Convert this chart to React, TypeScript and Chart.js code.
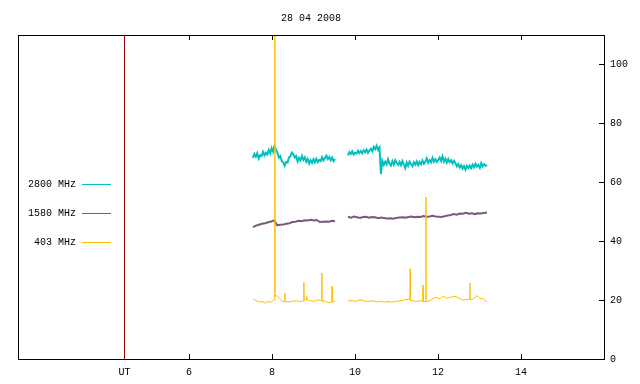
import React, { useEffect, useRef } from "react";
import { Chart, registerables } from "chart.js";

Chart.register(...registerables);

const TITLE = "28 04 2008";
const FONT_FAMILY = '"Liberation Mono", "DejaVu Sans Mono", monospace';

const X_MIN = 1.88;
const X_MAX = 16;
const Y_MIN = 0;
const Y_MAX = 110;
const UT_MARK = 4.446;
const X_TICKS = [4.446, 6, 8, 10, 12, 14];
const X_TICK_LABELS = ["UT", "6", "8", "10", "12", "14"];
const Y_TICKS = [0, 20, 40, 60, 80, 100];

const SERIES_NAMES = ["2800 MHz", "1580 MHz", "403 MHz"];
const SERIES_COLORS = ["#00c0c0", "#7a5a7c", "#ffbf00"];
const UT_COLOR = "#a00000";

// observing windows (UT hours)
const SEG_A = [7.54, 9.52];
const SEG_B = [9.83, 13.18];
const GAP_T = 9.67;

// 2800 MHz flux, window A and B
const F2800_A = [
  68.3, 69.6, 68.7, 69.9, 68.1, 69.2, 68.9,
  70.3, 69.1, 70.0, 69.4, 71.0, 69.8,
  71.6, 70.4, 72.3, 70.9,
  70.1, 68.4, 68.9, 67.2,
  66.8, 65.6, 66.9,
  66.7, 68.4, 68.8, 70.1,
  69.6, 68.4, 68.9,
  67.1, 68.3, 67.4,
  68.9, 67.6, 68.5,
  67.0, 67.9, 66.4, 67.5, 66.6,
  67.8, 66.8, 68.0, 66.9, 67.6, 67.2,
  68.5, 67.4, 68.2, 69.0, 67.9,
  68.6, 67.5, 68.4, 67.2, 67.9,
];
const F2800_B = [
  69.1, 70.2, 69.6, 70.5, 69.4, 70.0, 69.8, 70.7, 69.9,
  70.6, 69.8, 70.9, 70.2, 71.1, 70.0, 70.8,
  71.4, 70.5, 72.0, 71.2,
  72.4, 71.0, 71.8,
  62.8,
  67.3, 65.9, 67.0, 66.1, 67.8, 66.4, 65.7, 67.2, 66.0, 67.5, 66.6, 65.9,
  66.9, 65.8, 67.2, 66.0, 64.8, 66.7, 65.6, 67.0, 66.2, 65.5, 66.8, 66.0, 67.1, 65.8,
  66.9, 66.1, 67.4, 66.3, 67.0, 68.1, 66.6, 67.5, 66.8, 68.3, 67.0, 67.8, 66.9, 67.6,
  68.4, 67.2, 68.8, 67.0, 68.0, 66.7, 67.9, 66.8, 67.5, 66.4, 67.3,
  66.5, 65.4, 66.2, 65.0, 65.8, 64.6, 65.5, 64.3, 65.6, 64.9,
  65.7, 64.8, 66.0, 65.1, 66.3, 65.3, 65.9, 64.9, 66.5, 65.4, 66.1, 65.6, 65.9,
];

// 1580 MHz flux, window A and B
const F1580_A = [
  44.8, 45.3, 45.6, 45.9, 46.1, 46.4, 46.7, 47.1, 45.4, 45.6,
  45.7, 45.9, 46.1, 46.5, 46.6, 46.9, 46.8, 47.1, 47.0, 47.3,
  47.0, 47.2, 46.5, 46.6, 46.7, 46.6, 46.9, 46.8,
];
const F1580_B = [
  48.3, 48.0, 48.4, 48.1, 47.9, 48.2, 48.3, 48.0, 48.2, 48.1,
  47.8, 48.0, 47.9, 47.7, 47.8, 47.6, 47.9, 48.0, 48.1, 48.0,
  48.2, 48.4, 48.1, 48.3, 48.2, 48.5, 48.3, 48.4, 48.6, 48.4,
  48.3, 48.2, 48.5, 48.7, 48.9, 49.2, 49.0, 49.4, 49.3, 49.6,
  49.3, 49.5, 49.2, 49.5, 49.4, 49.6, 49.7,
];

// 403 MHz flux (times in UT hours), null marks the gap
const F403_T = [
  7.54, 7.61, 7.69, 7.76, 7.83, 7.9, 7.98, 8.05, 8.065, 8.07, 8.075,
  8.12, 8.17, 8.24, 8.305, 8.31, 8.315, 8.39, 8.48, 8.58, 8.67, 8.75,
  8.765, 8.77, 8.775, 8.82, 8.835, 8.84, 8.845, 8.92, 9.01, 9.11,
  9.195, 9.2, 9.205, 9.28, 9.35, 9.42, 9.445, 9.45, 9.455, 9.52,
  9.67,
  9.83, 9.93, 10.02, 10.12, 10.22, 10.31, 10.41, 10.51, 10.6, 10.7,
  10.8, 10.89, 10.99, 11.08, 11.21, 11.29, 11.325, 11.33, 11.335, 11.38,
  11.47, 11.57, 11.635, 11.64, 11.645, 11.705, 11.71, 11.715, 11.76,
  11.86, 11.95, 12.05, 12.12, 12.22, 12.31, 12.41, 12.51, 12.6, 12.7,
  12.765, 12.77, 12.775, 12.84, 12.94, 13.01, 13.1, 13.18,
];
const F403_V = [
  20.4, 19.9, 19.3, 19.6, 19.0, 19.5, 19.3, 20.2, 20.0, 200, 21.0,
  21.6, 20.8, 19.6, 19.5, 22.4, 19.5, 19.4, 19.6, 19.8, 19.5, 19.7,
  19.7, 26.1, 19.9, 20.3, 20.2, 21.2, 20.0, 19.8, 19.6, 20.1,
  19.8, 29.2, 19.7, 19.7, 19.2, 19.3, 19.4, 24.8, 19.5, 19.6,
  null,
  19.7, 19.8, 19.6, 20.1, 19.7, 19.5, 19.8, 19.4, 19.6, 19.3,
  19.5, 19.3, 19.6, 19.7, 20.1, 20.4, 20.0, 30.6, 19.9, 19.8,
  19.5, 19.8, 19.6, 25.1, 19.5, 19.5, 55.0, 19.6, 19.5,
  20.3, 20.9, 20.4, 21.4, 20.6, 21.0, 21.3, 20.6, 20.0, 20.2,
  20.3, 25.8, 20.2, 20.3, 21.5, 20.6, 20.4, 19.4,
];

type Pt = { x: number; y: number | null };

function windowPoints(range: number[], vals: number[]): Pt[] {
  const step = (range[1] - range[0]) / (vals.length - 1);
  return vals.map((v, i) => ({ x: range[0] + i * step, y: v }));
}

function twoWindows(a: number[], b: number[]): Pt[] {
  return [...windowPoints(SEG_A, a), { x: GAP_T, y: null }, ...windowPoints(SEG_B, b)];
}

const framePlugin = {
  id: "gnuFrame",
  afterDraw(chart: any) {
    const { ctx, chartArea: a, scales } = chart;
    ctx.save();
    ctx.strokeStyle = "#000";
    ctx.lineWidth = 1;
    ctx.strokeRect(a.left + 0.5, a.top + 0.5, a.right - a.left, a.bottom - a.top);
    ctx.beginPath();
    for (const t of scales.x.ticks) {
      if (t.value === UT_MARK) continue;
      const px = Math.round(scales.x.getPixelForValue(t.value)) + 0.5;
      ctx.moveTo(px, a.bottom);
      ctx.lineTo(px, a.bottom - 5);
      ctx.moveTo(px, a.top);
      ctx.lineTo(px, a.top + 5);
    }
    for (const t of scales.y.ticks) {
      const py = Math.round(scales.y.getPixelForValue(t.value)) + 0.5;
      ctx.moveTo(a.right, py);
      ctx.lineTo(a.right - 5, py);
    }
    ctx.stroke();
    // key
    ctx.font = `10px ${FONT_FAMILY}`;
    ctx.textAlign = "right";
    ctx.textBaseline = "middle";
    ctx.fillStyle = "#000";
    const keyY = [184, 213, 242];
    SERIES_NAMES.forEach((name, i) => {
      ctx.fillText(name, 76, keyY[i]);
      ctx.strokeStyle = SERIES_COLORS[i];
      ctx.lineWidth = 1;
      ctx.beginPath();
      ctx.moveTo(82, keyY[i] + 0.5);
      ctx.lineTo(111, keyY[i] + 0.5);
      ctx.stroke();
    });
    ctx.restore();
  },
};

export default function App() {
  const ref = useRef<HTMLCanvasElement | null>(null);
  useEffect(() => {
    if (!ref.current) return;
    const font = { family: FONT_FAMILY, size: 10, weight: "normal" as const, lineHeight: 1.2 };
    const chart = new Chart(ref.current, {
      type: "line",
      data: {
        datasets: [
          {
            label: SERIES_NAMES[2],
            data: F403_T.map((t, i) => ({ x: t, y: F403_V[i] })),
            borderColor: SERIES_COLORS[2],
            borderWidth: 1,
            pointRadius: 0,
            spanGaps: false,
          },
          {
            label: SERIES_NAMES[0],
            data: twoWindows(F2800_A, F2800_B),
            borderColor: SERIES_COLORS[0],
            borderWidth: 2,
            pointRadius: 0,
            spanGaps: false,
          },
          {
            label: SERIES_NAMES[1],
            data: twoWindows(F1580_A, F1580_B),
            borderColor: SERIES_COLORS[1],
            borderWidth: 2,
            pointRadius: 0,
            spanGaps: false,
          },
          {
            label: "UT",
            data: [
              { x: UT_MARK, y: Y_MIN },
              { x: UT_MARK, y: Y_MAX },
            ],
            borderColor: UT_COLOR,
            borderWidth: 1,
            pointRadius: 0,
          },
        ] as any,
      },
      options: {
        animation: false,
        responsive: false,
        devicePixelRatio: 1,
        layout: { padding: { left: 18, right: 0, top: 0, bottom: 0 } },
        elements: { line: { tension: 0 } },
        plugins: {
          legend: { display: false },
          tooltip: { enabled: false },
          title: {
            display: true,
            text: TITLE,
            fullSize: false,
            color: "#000",
            font,
            padding: { top: 12, bottom: 11 },
          },
        },
        scales: {
          x: {
            type: "linear",
            position: "bottom",
            min: X_MIN,
            max: X_MAX,
            grid: { display: false, drawTicks: false },
            border: { display: false },
            afterBuildTicks: (s: any) => {
              s.ticks = X_TICKS.map((v) => ({ value: v }));
            },
            afterFit: (s: any) => {
              s.height = 25;
            },
            ticks: {
              autoSkip: false,
              maxRotation: 0,
              color: "#000",
              font,
              padding: 7,
              callback: (_v: any, i: number) => X_TICK_LABELS[i],
            },
          },
          y: {
            type: "linear",
            position: "right",
            min: Y_MIN,
            max: Y_MAX,
            grid: { display: false, drawTicks: false },
            border: { display: false },
            afterBuildTicks: (s: any) => {
              s.ticks = Y_TICKS.map((v) => ({ value: v }));
            },
            afterFit: (s: any) => {
              s.width = 36;
            },
            ticks: {
              color: "#000",
              font,
              padding: 6,
              callback: (v: any) => String(v),
            },
          },
        },
      } as any,
      plugins: [framePlugin],
    });
    return () => chart.destroy();
  }, []);
  return (
    <div style={{ position: "fixed", left: 0, top: 0, width: 640, height: 384, background: "#fff" }}>
      <canvas ref={ref} width={640} height={384} style={{ width: 640, height: 384 }} />
    </div>
  );
}
